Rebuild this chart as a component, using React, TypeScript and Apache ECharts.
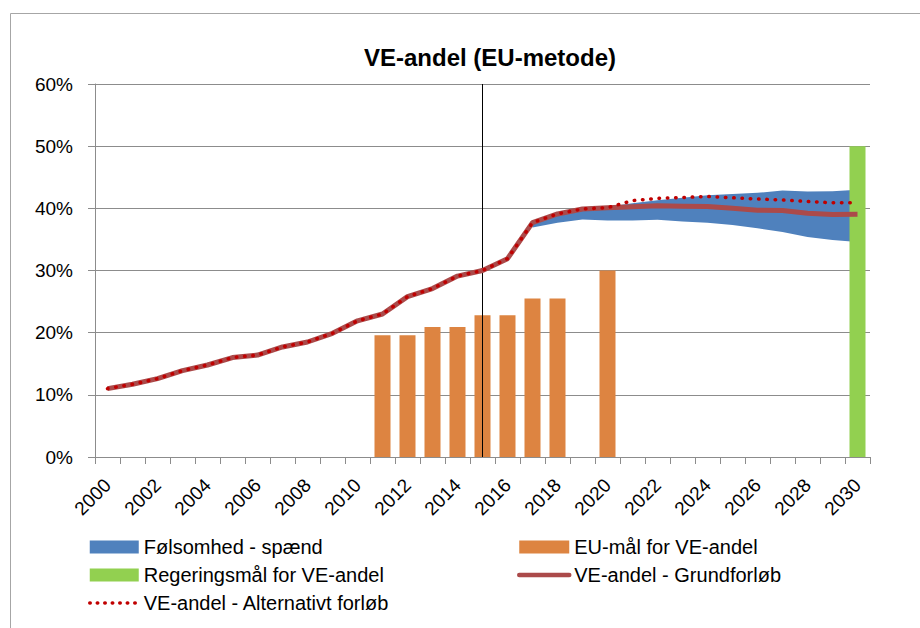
import React, { useEffect, useRef } from "react";
import * as echarts from "echarts";

const years = [
  "2000", "2001", "2002", "2003", "2004", "2005", "2006", "2007", "2008", "2009",
  "2010", "2011", "2012", "2013", "2014", "2015", "2016", "2017", "2018", "2019",
  "2020", "2021", "2022", "2023", "2024", "2025", "2026", "2027", "2028", "2029", "2030",
];

const grundforloeb = [
  11.0, 11.7, 12.6, 13.9, 14.8, 16.0, 16.4, 17.7, 18.5, 19.9,
  21.9, 23.0, 25.8, 27.1, 29.1, 30.0, 31.9, 37.7, 39.1, 39.9,
  40.1, 40.25, 40.4, 40.35, 40.3, 40.0, 39.7, 39.65, 39.2, 39.0, 39.05,
];

const alternativ = [
  11.0, 11.7, 12.6, 13.9, 14.8, 16.0, 16.4, 17.7, 18.5, 19.9,
  21.9, 23.0, 25.8, 27.1, 29.1, 30.0, 31.9, 37.7, 39.1, 39.9,
  40.1, 41.25, 41.6, 41.75, 41.9, 41.7, 41.5, 41.35, 41.1, 40.9, 40.9,
];

const bandLower = [
  null, null, null, null, null, null, null, null, null, null,
  null, null, null, null, null, null, null, 36.9, 37.7, 38.2,
  38.05, 38.05, 38.15, 37.9, 37.7, 37.3, 36.8, 36.2, 35.4, 34.9, 34.6,
];

const bandUpper = [
  null, null, null, null, null, null, null, null, null, null,
  null, null, null, null, null, null, null, 37.7, 39.1, 39.9,
  40.25, 40.8, 41.3, 41.7, 42.1, 42.3, 42.5, 42.85, 42.7, 42.75, 43.0,
];

const euMaal = [
  null, null, null, null, null, null, null, null, null, null,
  null, 19.6, 19.6, 20.9, 20.9, 22.8, 22.8, 25.5, 25.5, null,
  30.0, null, null, null, null, null, null, null, null, null, null,
];

const regeringsMaal = [
  null, null, null, null, null, null, null, null, null, null,
  null, null, null, null, null, null, null, null, null, null,
  null, null, null, null, null, null, null, null, null, null, 50.0,
];

const yTicks = { min: 0, max: 60, interval: 10 };

const FONT = "Liberation Sans";

export default function App() {
  const ref = useRef<HTMLDivElement>(null);

  useEffect(() => {
    if (!ref.current) return;
    const chart = echarts.init(ref.current, undefined, { renderer: "svg" });
    const bandDiff = bandUpper.map((u, i) =>
      u == null || bandLower[i] == null ? null : +(u - (bandLower[i] as number)).toFixed(3)
    );

    const legendText = { fontSize: 20, fontFamily: FONT, color: "#000", lineHeight: 20 };

    const option: any = {
      animation: false,
      backgroundColor: "#ffffff",
      textStyle: { fontFamily: FONT },
      graphic: [
        {
          type: "rect",
          z: -10,
          shape: { x: 10.5, y: 13.5, width: 1000, height: 1000 },
          style: { fill: "none", stroke: "#a6a6a6", lineWidth: 1 },
          silent: true,
        },
        {
          type: "text",
          x: 490,
          y: 57,
          style: {
            text: "VE-andel (EU-metode)",
            textAlign: "center",
            textVerticalAlign: "middle",
            font: `bold 24px "${FONT}"`,
            fill: "#000",
          },
        },
      ],
      grid: { left: 95, right: 50, top: 84, bottom: 171, containLabel: false },
      legend: [
        {
          left: 83,
          top: 532,
          orient: "vertical",
          itemWidth: 49,
          itemHeight: 13,
          itemGap: 8,
          textStyle: legendText,
          data: [
            { name: "Følsomhed - spænd", icon: "rect" },
            { name: "Regeringsmål for VE-andel", icon: "rect" },
            {
              name: "VE-andel - Alternativt forløb",
              itemStyle: { opacity: 0 },
              lineStyle: { width: 3.5, type: [0.5, 7], cap: "round", color: "#c00000" },
            },
          ],
        },
        {
          left: 512,
          top: 532,
          orient: "vertical",
          itemWidth: 50,
          itemHeight: 13,
          itemGap: 8,
          textStyle: legendText,
          data: [
            { name: "EU-mål for VE-andel", icon: "rect" },
            {
              name: "VE-andel - Grundforløb",
              itemStyle: { opacity: 0 },
              lineStyle: { width: 4.5, color: "#ab4a4a", cap: "round" },
            },
          ],
        },
      ],
      xAxis: {
        type: "category",
        data: years,
        boundaryGap: true,
        axisLine: { show: true, lineStyle: { color: "#8c8c8c", width: 1 } },
        axisTick: { show: true, interval: 0, length: 7, alignWithLabel: false, lineStyle: { color: "#8c8c8c" } },
        axisLabel: {
          interval: 1,
          rotate: 45,
          margin: 25,
          fontSize: 19,
          fontFamily: FONT,
          color: "#000",
        },
        splitLine: { show: false },
      },
      yAxis: {
        type: "value",
        min: yTicks.min,
        max: yTicks.max,
        interval: yTicks.interval,
        axisLine: { show: true, lineStyle: { color: "#8c8c8c", width: 1 } },
        axisTick: { show: true, length: 7, lineStyle: { color: "#8c8c8c" } },
        axisLabel: {
          formatter: "{value}%",
          fontSize: 19,
          fontFamily: FONT,
          color: "#000",
          margin: 22,
        },
        splitLine: { show: true, lineStyle: { color: "#8c8c8c", width: 1 } },
      },
      series: [
        {
          name: "EU-mål for VE-andel",
          type: "bar",
          stack: "bars",
          data: euMaal,
          barWidth: 16,
          itemStyle: { color: "#dd8441" },
          z: 2,
          markLine: {
            silent: true,
            symbol: ["none", "none"],
            label: { show: false },
            lineStyle: { color: "#000", width: 1, type: "solid" },
            data: [{ xAxis: "2015" }],
            z: 3,
          },
        },
        {
          name: "Regeringsmål for VE-andel",
          type: "bar",
          stack: "bars",
          data: regeringsMaal,
          barWidth: 17,
          itemStyle: { color: "#92d050" },
          z: 4,
        },
        {
          name: "bandBase",
          type: "line",
          stack: "band",
          data: bandLower,
          symbol: "none",
          lineStyle: { opacity: 0 },
          silent: true,
          z: 2,
        },
        {
          name: "Følsomhed - spænd",
          type: "line",
          stack: "band",
          data: bandDiff,
          symbol: "none",
          lineStyle: { opacity: 0 },
          itemStyle: { color: "#4f81bd" },
          areaStyle: { color: "#4f81bd", opacity: 1 },
          z: 2,
        },
        {
          name: "VE-andel - Grundforløb",
          type: "line",
          data: grundforloeb,
          symbol: "none",
          itemStyle: { color: "#ab4a4a" },
          lineStyle: { color: "#ab4a4a", width: 5 },
          z: 5,
        },
        {
          name: "VE-andel - Alternativt forløb",
          type: "line",
          data: alternativ,
          symbol: "none",
          itemStyle: { color: "#c00000" },
          lineStyle: { color: "#c00000", width: 3.5, type: [0.5, 7.8], cap: "round" },
          z: 6,
        },
      ],
    };

    chart.setOption(option);
    return () => chart.dispose();
  }, []);

  return (
    <div
      ref={ref}
      style={{ position: "fixed", left: 0, top: 0, width: 920, height: 628, background: "#fff" }}
    />
  );
}
